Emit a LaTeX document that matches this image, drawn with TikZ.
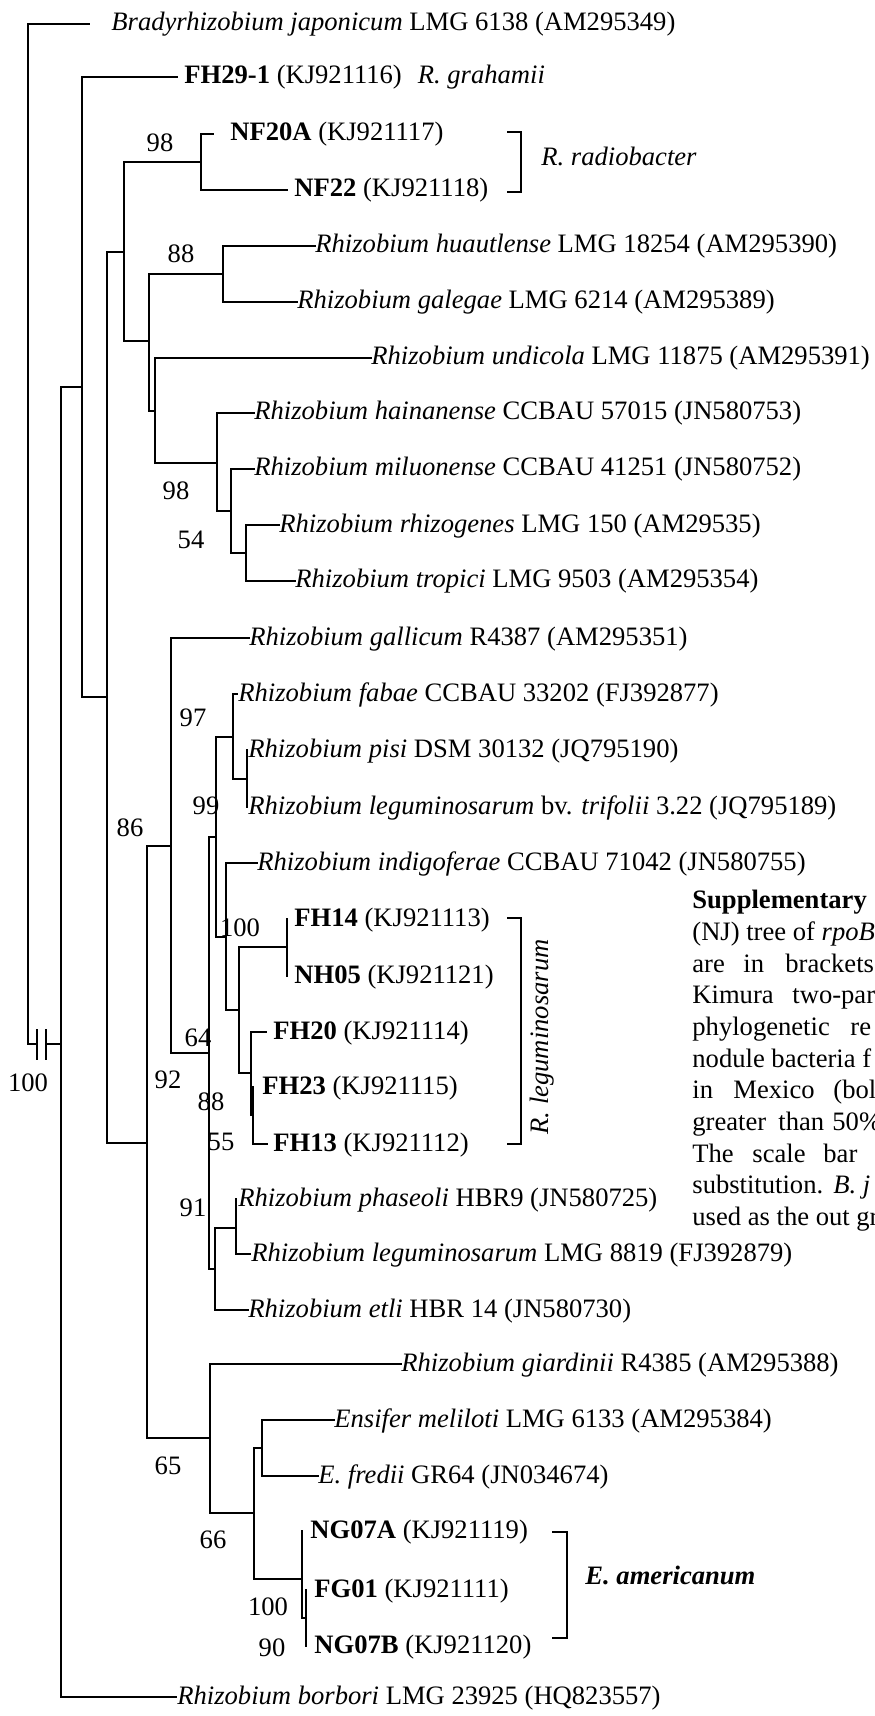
\documentclass[tikz,border=0pt]{standalone}
\usepackage{fontspec}
\setmainfont{Liberation Serif}
\newcommand{\treefont}{\fontsize{13.3}{16}\selectfont}
\begin{document}
\begin{tikzpicture}[x=0.5pt,y=-0.5pt,
  br/.style={line width=1pt,line cap=rect},
  lab/.style={anchor=base west,inner sep=0pt,font=\treefont},
  boot/.style={anchor=center,inner sep=0pt,font=\treefont},
  bracketline/.style={line width=0.6pt},
  captext/.style={anchor=base west,inner sep=0pt,font=\treefont}]
\useasboundingbox (0,0) rectangle (874,1716);
\clip (0,0) rectangle (874,1716);
\fill[white] (0,0) rectangle (874,1716);

% internal nodes
\coordinate (root) at (28,535);
\coordinate (brkA) at (37,1044);
\coordinate (brkB) at (46,1044);
\coordinate (n60) at (61,1044);
\coordinate (n82) at (82,387);
\coordinate (n107) at (107,697);
\coordinate (n124) at (124,252);
\coordinate (nNF) at (201,162);
\coordinate (n149) at (149,341);
\coordinate (n223) at (223,274);
\coordinate (n155) at (155,411);
\coordinate (n217) at (217,463);
\coordinate (n231) at (231,511);
\coordinate (n246) at (246,553);
\coordinate (n147) at (147,1143);
\coordinate (n171) at (171,846);
\coordinate (n209) at (209,1053);
\coordinate (n216) at (216,837);
\coordinate (n233) at (233,737);
\coordinate (n247) at (247,779);
\coordinate (n226) at (226,937);
\coordinate (n239) at (239,1010);
\coordinate (n287) at (287,947);
\coordinate (n251) at (251,1073);
\coordinate (n253) at (253,1115);
\coordinate (n215) at (215,1269);
\coordinate (n236) at (236,1228);
\coordinate (n210) at (210,1438);
\coordinate (n254) at (254,1513);
\coordinate (n262) at (262,1448);
\coordinate (n302) at (302,1579);
\coordinate (n306) at (306,1618);

% leaf tips
\coordinate (t0) at (89,24);
\coordinate (t1) at (177,77);
\coordinate (t2) at (213,134);
\coordinate (t3) at (287,190);
\coordinate (t4) at (315,246);
\coordinate (t5) at (297,302);
\coordinate (t6) at (371,358);
\coordinate (t7) at (254,413);
\coordinate (t8) at (254,469);
\coordinate (t9) at (279,525);
\coordinate (t10) at (295,581);
\coordinate (t11) at (249,638);
\coordinate (t12) at (237,694);
\coordinate (t13) at (247,750);
\coordinate (t14) at (247,807);
\coordinate (t15) at (257,863);
\coordinate (t16) at (287,919);
\coordinate (t17) at (287,976);
\coordinate (t18) at (266,1032);
\coordinate (t19) at (253,1087);
\coordinate (t20) at (267,1144);
\coordinate (t21) at (236,1199);
\coordinate (t22) at (250,1254);
\coordinate (t23) at (248,1310);
\coordinate (t24) at (401,1364);
\coordinate (t25) at (334,1420);
\coordinate (t26) at (318,1476);
\coordinate (t27) at (302,1531);
\coordinate (t28) at (306,1590);
\coordinate (t29) at (306,1646);
\coordinate (t30) at (176,1697);

% branches
\draw[br] (root) |- (t0);
\draw[br] (root) |- (brkA);
\draw[br] (brkA) ++(0,-14.5) -- ++(0,29);
\draw[br] (brkB) ++(0,-14.5) -- ++(0,29);
\draw[br] (brkB) -- (n60);
\draw[br] (n60) |- (n82);
\draw[br] (n60) |- (t30);
\draw[br] (n82) |- (t1);
\draw[br] (n82) |- (n107);
\draw[br] (n107) |- (n124);
\draw[br] (n107) |- (n147);
\draw[br] (n124) |- (nNF);
\draw[br] (n124) |- (n149);
\draw[br] (nNF) |- (t2);
\draw[br] (nNF) |- (t3);
\draw[br] (n149) |- (n223);
\draw[br] (n149) |- (n155);
\draw[br] (n223) |- (t4);
\draw[br] (n223) |- (t5);
\draw[br] (n155) |- (t6);
\draw[br] (n155) |- (n217);
\draw[br] (n217) |- (t7);
\draw[br] (n217) |- (n231);
\draw[br] (n231) |- (t8);
\draw[br] (n231) |- (n246);
\draw[br] (n246) |- (t9);
\draw[br] (n246) |- (t10);
\draw[br] (n147) |- (n171);
\draw[br] (n147) |- (n210);
\draw[br] (n171) |- (t11);
\draw[br] (n171) |- (n209);
\draw[br] (n209) |- (n216);
\draw[br] (n209) |- (n215);
\draw[br] (n216) |- (n233);
\draw[br] (n216) |- (n226);
\draw[br] (n233) |- (t12);
\draw[br] (n233) |- (n247);
\draw[br] (n247) |- (t13);
\draw[br] (n247) |- (t14);
\draw[br] (n226) |- (t15);
\draw[br] (n226) |- (n239);
\draw[br] (n239) |- (n287);
\draw[br] (n239) |- (n251);
\draw[br] (n287) |- (t16);
\draw[br] (n287) |- (t17);
\draw[br] (n251) |- (t18);
\draw[br] (n251) |- (n253);
\draw[br] (n253) |- (t19);
\draw[br] (n253) |- (t20);
\draw[br] (n215) |- (n236);
\draw[br] (n215) |- (t23);
\draw[br] (n236) |- (t21);
\draw[br] (n236) |- (t22);
\draw[br] (n210) |- (t24);
\draw[br] (n210) |- (n254);
\draw[br] (n254) |- (n262);
\draw[br] (n254) |- (n302);
\draw[br] (n262) |- (t25);
\draw[br] (n262) |- (t26);
\draw[br] (n302) |- (t27);
\draw[br] (n302) |- (n306);
\draw[br] (n306) |- (t28);
\draw[br] (n306) |- (t29);

% leaf labels
\node[lab] (l0) at (111,31) {\textit{Bradyrhizobium japonicum} LMG 6138 (AM295349)};
\node[lab] (l1) at (184,84) {\textbf{FH29-1} (KJ921116)\hspace{8pt}\textit{R. grahamii}};
\node[lab] (l2) at (230,141) {\textbf{NF20A} (KJ921117)};
\node[lab] (l3) at (294,197) {\textbf{NF22} (KJ921118)};
\node[lab] (l4) at (315,253) {\textit{Rhizobium huautlense} LMG 18254 (AM295390)};
\node[lab] (l5) at (297,309) {\textit{Rhizobium galegae} LMG 6214 (AM295389)};
\node[lab] (l6) at (371,365) {\textit{Rhizobium undicola} LMG 11875 (AM295391)};
\node[lab] (l7) at (254,420) {\textit{Rhizobium hainanense} CCBAU 57015 (JN580753)};
\node[lab] (l8) at (254,476) {\textit{Rhizobium miluonense} CCBAU 41251 (JN580752)};
\node[lab] (l9) at (279,532) {\textit{Rhizobium rhizogenes} LMG 150 (AM29535)};
\node[lab] (l10) at (295,588) {\textit{Rhizobium tropici} LMG 9503 (AM295354)};
\node[lab] (l11) at (249,645) {\textit{Rhizobium gallicum} R4387 (AM295351)};
\node[lab] (l12) at (238,701) {\textit{Rhizobium fabae} CCBAU 33202 (FJ392877)};
\node[lab] (l13) at (248,757) {\textit{Rhizobium pisi} DSM 30132 (JQ795190)};
\node[lab] (l14) at (248,814) {\textit{Rhizobium leguminosarum} bv. \textit{trifolii} 3.22 (JQ795189)};
\node[lab] (l15) at (257,870) {\textit{Rhizobium indigoferae} CCBAU 71042 (JN580755)};
\node[lab] (l16) at (294,926) {\textbf{FH14} (KJ921113)};
\node[lab] (l17) at (294,983) {\textbf{NH05} (KJ921121)};
\node[lab] (l18) at (273,1039) {\textbf{FH20} (KJ921114)};
\node[lab] (l19) at (262,1094) {\textbf{FH23} (KJ921115)};
\node[lab] (l20) at (273,1151) {\textbf{FH13} (KJ921112)};
\node[lab] (l21) at (238,1206) {\textit{Rhizobium phaseoli} HBR9 (JN580725)};
\node[lab] (l22) at (251,1261) {\textit{Rhizobium leguminosarum} LMG 8819 (FJ392879)};
\node[lab] (l23) at (248,1317) {\textit{Rhizobium etli} HBR 14 (JN580730)};
\node[lab] (l24) at (401,1371) {\textit{Rhizobium giardinii} R4385 (AM295388)};
\node[lab] (l25) at (334,1427) {\textit{Ensifer meliloti} LMG 6133 (AM295384)};
\node[lab] (l26) at (318,1483) {\textit{E. fredii} GR64 (JN034674)};
\node[lab] (l27) at (310,1538) {\textbf{NG07A} (KJ921119)};
\node[lab] (l28) at (314,1597) {\textbf{FG01} (KJ921111)};
\node[lab] (l29) at (314,1653) {\textbf{NG07B} (KJ921120)};
\node[lab] (l30) at (177,1704) {\textit{Rhizobium borbori} LMG 23925 (HQ823557)};

% bootstrap values
\node[boot] (b1) at (160,143) {98};
\node[boot] (b2) at (181,254) {88};
\node[boot] (b3) at (176,491) {98};
\node[boot] (b4) at (191,540) {54};
\node[boot] (b5) at (193,718) {97};
\node[boot] (b6) at (206,806) {99};
\node[boot] (b7) at (130,828) {86};
\node[boot] (b8) at (240,928) {100};
\node[boot] (b9) at (198,1038) {64};
\node[boot] (b10) at (168,1080) {92};
\node[boot] (b11) at (211,1102) {88};
\node[boot] (b12) at (221,1142) {55};
\node[boot] (b13) at (193,1208) {91};
\node[boot] (b14) at (168,1466) {65};
\node[boot] (b15) at (213,1540) {66};
\node[boot] (b16) at (268,1607) {100};
\node[boot] (b17) at (272,1648) {90};
\node[boot] (b18) at (28,1083) {100};

% brackets
\draw[bracketline] (507,132) -- ++(14,0) |- (507,192);
\node[lab] (g1) at (541,166) {\textit{R. radiobacter}};
\draw[bracketline] (507,918) -- ++(14,0) |- (507,1144);
\node[inner sep=0pt,font=\treefont,rotate=90] (g2) at (542,1037) {\textit{R. leguminosarum}};
\draw[bracketline] (552,1532) -- ++(15,0) |- (552,1638);
\node[lab] (g3) at (585,1584) {\textbf{\textit{E. americanum}}};

% caption (clipped at the right edge, as in the reference)
\node[captext] (c1) at (692,908) {\textbf{Supplementary}};
\node[captext] (c2) at (692,940) {(NJ) tree of \textit{rpoB}};
\node[captext] (c3a) at (692,972) {are};
\node[captext] (c3b) at (743,972) {in};
\node[captext] (c3c) at (785,972) {brackets};
\node[captext] (c4a) at (692,1003) {Kimura};
\node[captext] (c4b) at (792,1003) {two-par};
\node[captext] (c5a) at (692,1035) {phylogenetic};
\node[captext] (c5b) at (850,1035) {re};
\node[captext] (c6) at (692,1067) {nodule bacteria f};
\node[captext] (c7a) at (692,1098) {in};
\node[captext] (c7b) at (733,1098) {Mexico};
\node[captext] (c7c) at (833,1098) {(bol};
\node[captext] (c8a) at (692,1130) {greater};
\node[captext] (c8b) at (778,1130) {than};
\node[captext] (c8c) at (832,1130) {50\%};
\node[captext] (c9a) at (692,1162) {The};
\node[captext] (c9b) at (752,1162) {scale};
\node[captext] (c9c) at (823,1162) {bar};
\node[captext] (c10a) at (692,1193) {substitution.};
\node[captext] (c10b) at (833,1193) {\textit{B. j}};
\node[captext] (c11) at (692,1225) {used as the out gr};
\end{tikzpicture}
\end{document}
